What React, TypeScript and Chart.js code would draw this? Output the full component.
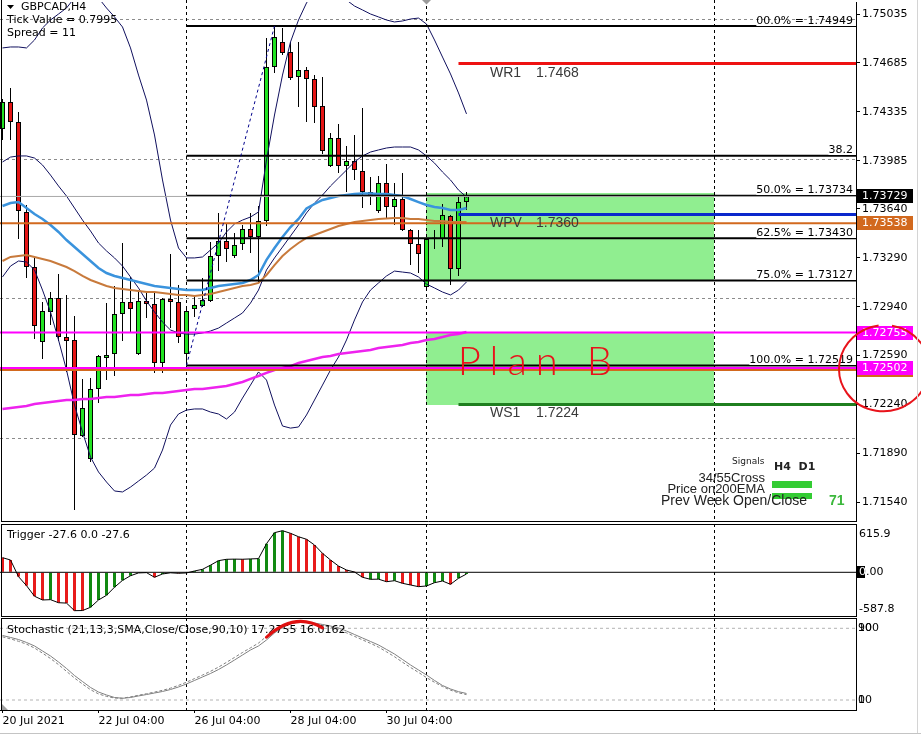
import React, { useEffect, useRef } from 'react';
import { Chart, registerables } from 'chart.js';

Chart.register(...registerables);

// ---------------- price data (H4 bars, index 0 = 20 Jul 04:00) ----------------
const OPEN = [1.74212, 1.74405, 1.74262, 1.73618, 1.73224, 1.72687, 1.72902, 1.73002, 1.72723, 1.72702,
  1.72014, 1.71850, 1.72351, 1.72573, 1.72601, 1.72888, 1.72974, 1.72601, 1.72981, 1.72959,
  1.72537, 1.72995, 1.72974, 1.72601, 1.72923, 1.72945, 1.72981, 1.73303, 1.73410, 1.73303,
  1.73389, 1.73496, 1.73439, 1.73553, 1.74656, 1.74835, 1.74763, 1.74584, 1.74634, 1.74570,
  1.74377, 1.73947, 1.74147, 1.73947, 1.73983, 1.73911, 1.73761, 1.73625, 1.73825, 1.73654,
  1.73711, 1.73489, 1.73389, 1.73081, 1.73428, 1.73424, 1.73589, 1.73210, 1.73689];
const HIGH = [1.74427, 1.74505, 1.74334, 1.73668, 1.73303, 1.72974, 1.73045, 1.73174, 1.73024, 1.72873,
  1.72422, 1.72430, 1.72594, 1.72966, 1.73088, 1.73396, 1.73152, 1.73059, 1.73045, 1.73052,
  1.73002, 1.73317, 1.73095, 1.72930, 1.73024, 1.73145, 1.73403, 1.73611, 1.73532, 1.73467,
  1.73525, 1.73611, 1.73661, 1.74863, 1.74949, 1.74935, 1.74835, 1.74835, 1.74656, 1.74598,
  1.74584, 1.74183, 1.74248, 1.74090, 1.74169, 1.74362, 1.73868, 1.73875, 1.73961, 1.73825,
  1.73897, 1.73496, 1.73489, 1.73430, 1.73489, 1.73675, 1.73596, 1.73725, 1.73761];
const LOW = [1.74133, 1.74133, 1.73424, 1.73145, 1.72709, 1.72566, 1.72809, 1.72694, 1.72472, 1.71485,
  1.72007, 1.71828, 1.72251, 1.72415, 1.72444, 1.72694, 1.72752, 1.72594, 1.72859, 1.72465,
  1.72465, 1.72787, 1.72680, 1.72519, 1.72866, 1.72938, 1.72974, 1.73195, 1.73260, 1.73288,
  1.73346, 1.73324, 1.73117, 1.73518, 1.74613, 1.74742, 1.74563, 1.74369, 1.74262, 1.74255,
  1.74033, 1.73940, 1.73897, 1.73761, 1.73847, 1.73646, 1.73668, 1.73611, 1.73575, 1.73525,
  1.73482, 1.73238, 1.73181, 1.73074, 1.73353, 1.73367, 1.73095, 1.73160, 1.73632];
const CLOSE = [1.74405, 1.74262, 1.73625, 1.73224, 1.72802, 1.72909, 1.73002, 1.72723, 1.72694, 1.72022,
  1.72215, 1.72351, 1.72587, 1.72594, 1.72888, 1.72974, 1.72923, 1.72981, 1.72959, 1.72537,
  1.72995, 1.72974, 1.72723, 1.72909, 1.72952, 1.72988, 1.73303, 1.73410, 1.73353, 1.73382,
  1.73496, 1.73439, 1.73553, 1.74656, 1.74870, 1.74756, 1.74577, 1.74634, 1.74570, 1.74369,
  1.74054, 1.74147, 1.73947, 1.73983, 1.73918, 1.73761, 1.73725, 1.73825, 1.73654, 1.73711,
  1.73489, 1.73389, 1.73317, 1.73424, 1.73435, 1.73596, 1.73210, 1.73689, 1.73729];

// ---------------- indicators ----------------
const BB_UPPER = [1.74792, 1.74799, 1.74799, 1.74792, 1.74849, 1.74935, 1.74992, 1.75035, 1.75078, 1.75150,
  1.75193, 1.75193, 1.75150, 1.75078, 1.75014, 1.74942, 1.74792, 1.74598, 1.74419, 1.74169,
  1.73847, 1.73560, 1.73360, 1.73289, 1.73289, 1.73296, 1.73346, 1.73396, 1.73475, 1.73532,
  1.73560, 1.73582, 1.73618, 1.73990, 1.74312, 1.74598, 1.74835, 1.74992, 1.75114, 1.75193,
  1.75221, 1.75207, 1.75171, 1.75135, 1.75092, 1.75064, 1.75035, 1.75014, 1.74992, 1.74978,
  1.74985, 1.74999, 1.75006, 1.74963, 1.74849, 1.74727, 1.74606, 1.74470, 1.74320];
const BB_MIDDLE = [1.73976, 1.74011, 1.74019, 1.74019, 1.74004, 1.73954, 1.73882, 1.73804, 1.73732, 1.73646,
  1.73560, 1.73482, 1.73396, 1.73339, 1.73289, 1.73231, 1.73153, 1.73074, 1.72981, 1.72902,
  1.72830, 1.72773, 1.72752, 1.72744, 1.72744, 1.72752, 1.72766, 1.72787, 1.72823, 1.72859,
  1.72895, 1.72966, 1.73059, 1.73203, 1.73289, 1.73367, 1.73446, 1.73525, 1.73611, 1.73682,
  1.73739, 1.73804, 1.73861, 1.73918, 1.73976, 1.74019, 1.74047, 1.74062, 1.74076, 1.74083,
  1.74083, 1.74083, 1.74062, 1.74019, 1.73968, 1.73904, 1.73847, 1.73775, 1.73725];
const BB_LOWER = [1.73153, 1.73231, 1.73267, 1.73260, 1.73203, 1.73059, 1.72902, 1.72702, 1.72487, 1.72236,
  1.72043, 1.71864, 1.71757, 1.71685, 1.71621, 1.71614, 1.71649, 1.71692, 1.71735, 1.71785,
  1.71914, 1.72093, 1.72172, 1.72200, 1.72208, 1.72208, 1.72186, 1.72172, 1.72136, 1.72186,
  1.72286, 1.72379, 1.72473, 1.72415, 1.72236, 1.72086, 1.72071, 1.72079, 1.72165, 1.72272,
  1.72379, 1.72487, 1.72580, 1.72702, 1.72845, 1.72974, 1.73059, 1.73110, 1.73160, 1.73195,
  1.73188, 1.73181, 1.73153, 1.73102, 1.73074, 1.73045, 1.73024, 1.73059, 1.73117];
const EMA_FAST = [1.73661, 1.73682, 1.73689, 1.73646, 1.73603, 1.73568, 1.73525, 1.73475, 1.73417, 1.73367,
  1.73317, 1.73267, 1.73217, 1.73181, 1.73160, 1.73145, 1.73131, 1.73117, 1.73102, 1.73088,
  1.73081, 1.73074, 1.73067, 1.73059, 1.73059, 1.73059, 1.73074, 1.73088, 1.73095, 1.73102,
  1.73110, 1.73131, 1.73167, 1.73275, 1.73360, 1.73439, 1.73510, 1.73568, 1.73643, 1.73675,
  1.73704, 1.73718, 1.73732, 1.73739, 1.73747, 1.73750, 1.73750, 1.73747, 1.73747, 1.73739,
  1.73732, 1.73711, 1.73689, 1.73668, 1.73654, 1.73646, 1.73632, 1.73632, 1.73646];
const EMA_SLOW = [1.73267, 1.73296, 1.73303, 1.73310, 1.73296, 1.73281, 1.73267, 1.73246, 1.73224, 1.73195,
  1.73160, 1.73131, 1.73110, 1.73088, 1.73074, 1.73067, 1.73059, 1.73052, 1.73045, 1.73045,
  1.73038, 1.73031, 1.73024, 1.73024, 1.73017, 1.73024, 1.73031, 1.73045, 1.73059, 1.73074,
  1.73088, 1.73095, 1.73110, 1.73167, 1.73238, 1.73303, 1.73353, 1.73396, 1.73432, 1.73453,
  1.73475, 1.73496, 1.73518, 1.73532, 1.73546, 1.73553, 1.73560, 1.73568, 1.73571, 1.73575,
  1.73575, 1.73568, 1.73568, 1.73560, 1.73553, 1.73553, 1.73546, 1.73546, 1.73546];
const EMA_200 = [1.72208, 1.72215, 1.72222, 1.72229, 1.72244, 1.72251, 1.72258, 1.72265, 1.72272, 1.72272,
  1.72279, 1.72279, 1.72286, 1.72294, 1.72294, 1.72301, 1.72308, 1.72308, 1.72315, 1.72322,
  1.72322, 1.72329, 1.72337, 1.72344, 1.72351, 1.72351, 1.72358, 1.72365, 1.72372, 1.72387,
  1.72401, 1.72423, 1.72444, 1.72466, 1.72487, 1.72501, 1.72515, 1.72537, 1.72551, 1.72566,
  1.72580, 1.72587, 1.72601, 1.72608, 1.72616, 1.72623, 1.72630, 1.72644, 1.72651, 1.72658,
  1.72666, 1.72680, 1.72687, 1.72702, 1.72709, 1.72723, 1.72737, 1.72744, 1.72759];

const TRIGGER = [235, 198, -70, -215, -385, -445, -440, -489, -495, -617,
  -615, -563, -445, -370, -240, -130, -55, -10, -5, -80,
  -27, -8, -16, -10, 21, 48, 115, 187, 209, 212,
  210, 215, 220, 460, 637, 669, 627, 572, 531, 439,
  305, 198, 101, 37, 5, -80, -113, -110, -151, -135,
  -177, -204, -231, -220, -167, -140, -193, -96, -27.6];
const TRIGGER_RISING = [0, 0, 0, 0, 0, 0, 1, 0, 0, 0,
  0, 1, 1, 1, 1, 1, 1, 1, 1, 0,
  1, 1, 0, 1, 1, 1, 1, 1, 1, 1,
  0, 1, 1, 1, 1, 1, 0, 0, 0, 0,
  0, 0, 0, 0, 0, 0, 1, 1, 0, 1,
  0, 0, 0, 1, 1, 1, 0, 1, 1];

const STOCH_MAIN = [82.0, 79.8, 77.5, 74.2, 70.3, 64.7, 59.1, 52.4, 45.2, 37.3,
  30.6, 24.0, 18.9, 15.6, 12.8, 11.9, 12.8, 14.5, 16.1, 17.8,
  19.5, 21.7, 24.5, 27.9, 31.8, 35.7, 39.6, 44.0, 49.1, 54.6,
  60.2, 65.8, 70.3, 77.0, 84.8, 91.0, 94.8, 97.1, 97.1, 95.9,
  94.3, 92.6, 90.4, 87.0, 83.1, 79.2, 75.3, 71.4, 66.4, 61.3,
  55.2, 49.1, 43.5, 37.9, 31.8, 26.2, 22.3, 19.3, 17.2755];
const STOCH_SIGNAL = [80.5, 78.2, 75.5, 72.3, 68.0, 62.3, 56.3, 49.5, 42.0, 34.5,
  27.8, 21.5, 16.8, 14.0, 12.2, 12.0, 13.5, 15.3, 17.0, 18.8,
  20.8, 23.2, 26.3, 29.9, 33.9, 37.8, 42.0, 46.7, 52.0, 57.5,
  63.0, 68.2, 73.5, 81.0, 88.0, 93.2, 96.3, 97.8, 96.8, 95.2,
  93.5, 91.5, 88.8, 85.0, 81.0, 77.1, 73.2, 69.0, 63.8, 58.3,
  52.2, 46.3, 40.8, 35.0, 29.8, 25.0, 21.0, 18.0, 16.0162];

// ---------------- axes / levels ----------------
const PRICE_TICKS = [1.75035, 1.74685, 1.74335, 1.73985, 1.73640, 1.73290, 1.72940, 1.72590, 1.72240, 1.71890, 1.71540];
const GRID_PRICES = [1.75, 1.74, 1.73, 1.72];
const X_TICK_BARS = [0, 12, 24, 36, 48];
const X_TICK_LABELS = ['20 Jul 2021', '22 Jul 04:00', '26 Jul 04:00', '28 Jul 04:00', '30 Jul 04:00'];
const SEPARATOR_BARS = [23, 53, 89];
const SHIFT_BAR = 53;

const FIB_START_BAR = 23;
const FIB_LEVELS = [1.74949, 1.74021, 1.73734, 1.73430, 1.73127, 1.72519];
const FIB_LABELS = ['00.0% = 1.74949', '38.2', '50.0% = 1.73734', '62.5% = 1.73430', '75.0% = 1.73127', '100.0% = 1.72519'];
const FIB_TREND_BARS = [23, 34];
const FIB_TREND_PRICES = [1.72519, 1.74949];

const PIVOT_NAMES = ['WR1', 'WPV', 'WS1'];
const PIVOT_VALUES = [1.7468, 1.7360, 1.7224];
const PIVOT_COLORS = ['#ee1111', '#0a28cc', '#1f7f1f'];
const PIVOT_START_BAR = 57;

const HLINE_PRICES = [1.73538, 1.72487, 1.72755, 1.72502];
const HLINE_COLORS = ['#d2691e', '#d2691e', '#ff00ff', '#ff00ff'];
const BID_PRICE = 1.73729;

const ZONE_FROM_BAR = 53;
const ZONE_TO_BAR = 89;
const ZONE_TOPS = [1.73752, 1.72750];
const ZONE_BOTTOMS = [1.73127, 1.72233];

const TRIGGER_TICKS = [615.9, 0, -587.8];
const STOCH_LEVELS = [90, 10];

const PLAN_B = { text: 'Plan B', bar: 56.9, price: 1.72451 };
const ARC_BARS = [33, 36.5, 40];
const ARC_VALUES = [80, 109, 90.5];

// ranges
const X_MIN = -0.3125;
const X_MAX = 106.6875;
const PRICE_MIN = 1.714061;
const PRICE_MAX = 1.751209;
const TRIG_MIN = -718.8;
const TRIG_MAX = 776.7;
const STOCH_MIN = -1.16;
const STOCH_MAX = 101.5;

const AXIS_W = 65;
const FONT_UI = '"DejaVu Sans", Verdana, sans-serif';
const FONT_SANS = '"Liberation Sans", Arial, sans-serif';

// ---------------- helpers ----------------
const series = (arr: number[]) => arr.map((v, i) => ({ x: i, y: v }));
const hline = (from: number, to: number, v: number) => [{ x: from, y: v }, { x: to, y: v }];
const lineDs = (data: any[], color: string, width: number, order: number, extra: any = {}) => ({
  type: 'line', data, borderColor: color, borderWidth: width, pointRadius: 0, pointHoverRadius: 0,
  fill: false, tension: 0, order, clip: 0, ...extra,
});

const xHidden = () => ({ type: 'linear', min: X_MIN, max: X_MAX, display: false, offset: false });

const rightAxis = (min: number, max: number, ticks: number[], fmt: (v: number) => string, tickLen: number, padding: number) => ({
  type: 'linear', position: 'right', min, max,
  afterBuildTicks: (s: any) => { s.ticks = ticks.map((v) => ({ value: v })); },
  afterFit: (s: any) => { s.width = AXIS_W; s.paddingTop = 0; s.paddingBottom = 0; },
  grid: { drawOnChartArea: false, drawTicks: tickLen > 0, tickLength: tickLen, color: '#000', lineWidth: 1 },
  border: { display: true, color: '#000', width: 1 },
  ticks: { autoSkip: false, padding, color: '#000', font: { family: FONT_UI, size: 11 }, callback: (v: number) => fmt(v) },
});

function drawSeparators(ctx: any, xs: any, y0: number, y1: number) {
  ctx.save();
  ctx.strokeStyle = '#000';
  ctx.lineWidth = 1;
  ctx.setLineDash([3, 3]);
  for (const b of SEPARATOR_BARS) {
    const xx = Math.floor(xs.getPixelForValue(b)) + 0.5;
    ctx.beginPath(); ctx.moveTo(xx, y0); ctx.lineTo(xx, y1); ctx.stroke();
  }
  ctx.restore();
}

// ---------------- plugins ----------------
const mainPlugin = {
  id: 'mainDecor',
  beforeDatasetsDraw(chart: any) {
    const { ctx, chartArea: ca } = chart;
    const xs = chart.scales.x, ys = chart.scales.y;
    ctx.save();
    ctx.beginPath(); ctx.rect(0, 0, ca.right, ca.bottom); ctx.clip();
    ctx.lineWidth = 1;
    ctx.strokeStyle = '#8c8c8c';
    ctx.setLineDash([3, 3]);
    for (const p of GRID_PRICES) {
      const yy = Math.round(ys.getPixelForValue(p)) + 0.5;
      ctx.beginPath(); ctx.moveTo(ca.left, yy); ctx.lineTo(ca.right, yy); ctx.stroke();
    }
    ctx.setLineDash([]);
    ctx.fillStyle = '#90ee90';
    const zx0 = Math.floor(xs.getPixelForValue(ZONE_FROM_BAR));
    const zx1 = Math.floor(xs.getPixelForValue(ZONE_TO_BAR));
    ZONE_TOPS.forEach((top, k) => {
      const y0 = Math.round(ys.getPixelForValue(top));
      const y1 = Math.round(ys.getPixelForValue(ZONE_BOTTOMS[k]));
      ctx.fillRect(zx0, y0, zx1 - zx0, y1 - y0);
    });
    drawSeparators(ctx, xs, 0, ca.bottom);
    ctx.restore();
  },
  afterDatasetsDraw(chart: any) {
    const { ctx, chartArea: ca } = chart;
    const xs = chart.scales.x, ys = chart.scales.y;
    ctx.save();
    // panel border
    ctx.strokeStyle = '#000'; ctx.lineWidth = 1; ctx.setLineDash([]);
    ctx.beginPath();
    ctx.moveTo(1.5, 0); ctx.lineTo(1.5, ca.bottom + 1);
    ctx.moveTo(1, ca.bottom + 0.5); ctx.lineTo(ca.right, ca.bottom + 0.5);
    ctx.stroke();

    // chart shift marker
    const sx = xs.getPixelForValue(SHIFT_BAR);
    ctx.fillStyle = '#9a9a9a';
    ctx.beginPath(); ctx.moveTo(sx - 4.5, 0); ctx.lineTo(sx + 4.5, 0); ctx.lineTo(sx, 4.5); ctx.closePath(); ctx.fill();

    // fib labels
    ctx.font = `11px ${FONT_UI}`;
    ctx.textAlign = 'right';
    ctx.textBaseline = 'alphabetic';
    FIB_LEVELS.forEach((lv, k) => {
      const yy = ys.getPixelForValue(lv);
      const w = ctx.measureText(FIB_LABELS[k]).width;
      ctx.fillStyle = '#fff';
      ctx.fillRect(ca.right - 3 - w, Math.floor(yy) - 1, w + 3, 1);
      ctx.fillStyle = '#000';
      ctx.fillText(FIB_LABELS[k], ca.right - 3, yy - 2.5);
    });

    // pivot labels
    ctx.font = `14px ${FONT_SANS}`;
    ctx.textAlign = 'left';
    ctx.fillStyle = '#3a3a3a';
    const px = xs.getPixelForValue(PIVOT_START_BAR);
    PIVOT_VALUES.forEach((v, k) => {
      const yy = ys.getPixelForValue(v) + 13;
      ctx.fillText(PIVOT_NAMES[k], px + 31.5, yy);
      ctx.fillText(v.toFixed(4), px + 77.5, yy);
    });

    // header
    ctx.fillStyle = '#000';
    ctx.beginPath(); ctx.moveTo(7, 5); ctx.lineTo(14, 5); ctx.lineTo(10.5, 9); ctx.closePath(); ctx.fill();
    ctx.font = `11px ${FONT_UI}`;
    ctx.textBaseline = 'middle';
    ctx.fillText('GBPCAD,H4', 21, 7.5);
    ctx.fillText('Tick Value = 0.7995', 7, 20.5);
    ctx.fillText('Spread = 11', 7, 33.5);

    // signals box
    const R = ca.right, B = ca.bottom;
    ctx.fillStyle = '#33cc33';
    ctx.fillRect(R - 84, B - 40, 40, 7);
    ctx.fillRect(R - 84, B - 28, 40, 6);
    ctx.fillStyle = '#222';
    ctx.font = `9px ${FONT_UI}`;
    ctx.fillText('Signals', R - 124, B - 59);
    ctx.font = `bold 11px ${FONT_UI}`;
    ctx.fillText('H4  D1', R - 82, B - 54);
    ctx.font = `13px ${FONT_SANS}`;
    ctx.textAlign = 'right';
    ctx.fillText('34/55Cross', R - 91, B - 42.5);
    ctx.fillText('Price on200EMA', R - 91, B - 32);
    ctx.textAlign = 'left';
    ctx.font = `14px ${FONT_SANS}`;
    ctx.fillText('Prev Week Open/Close', R - 195, B - 19.5);
    ctx.fillStyle = '#3cb83c';
    ctx.font = `bold 14px ${FONT_SANS}`;
    ctx.fillText('71', R - 27, B - 19.5);

    // axis tags
    const tag = (v: number, bg: string) => {
      const yy = Math.round(ys.getPixelForValue(v));
      ctx.fillStyle = bg;
      ctx.fillRect(R + 1, yy - 7, 56, 14);
      ctx.fillStyle = '#fff';
      ctx.font = `11px ${FONT_UI}`;
      ctx.textAlign = 'left';
      ctx.textBaseline = 'middle';
      ctx.fillText(v.toFixed(5), R + 6, yy);
    };
    HLINE_PRICES.forEach((p, k) => { if (HLINE_COLORS[k] === '#d2691e') tag(p, '#d2691e'); });
    HLINE_PRICES.forEach((p, k) => { if (HLINE_COLORS[k] === '#ff00ff') tag(p, '#ff00ff'); });
    tag(BID_PRICE, '#000');

    // hand-drawn annotation
    ctx.fillStyle = '#e8131b';
    ctx.strokeStyle = '#e8131b';
    ctx.font = `300 40px Lato, ${FONT_SANS}`;
    try { (ctx as any).letterSpacing = '9px'; } catch (e) { /* ignore */ }
    ctx.textAlign = 'left';
    ctx.textBaseline = 'alphabetic';
    ctx.fillText(PLAN_B.text, xs.getPixelForValue(PLAN_B.bar), ys.getPixelForValue(PLAN_B.price));
    try { (ctx as any).letterSpacing = '0px'; } catch (e) { /* ignore */ }
    ctx.lineWidth = 2;
    ctx.beginPath();
    ctx.ellipse(R + 28, ys.getPixelForValue(1.72500), 45, 43, -0.2, -1.2, Math.PI * 2 - 1.5);
    ctx.stroke();
    ctx.restore();
  },
};

const trigPlugin = {
  id: 'trigDecor',
  beforeDatasetsDraw(chart: any) {
    const { ctx, chartArea: ca } = chart;
    drawSeparators(ctx, chart.scales.x, ca.top, ca.bottom);
  },
  afterDatasetsDraw(chart: any) {
    const { ctx, chartArea: ca } = chart;
    const ys = chart.scales.y;
    ctx.save();
    ctx.strokeStyle = '#000'; ctx.lineWidth = 1;
    ctx.beginPath();
    ctx.moveTo(1.5, ca.top); ctx.lineTo(1.5, ca.bottom);
    ctx.moveTo(1, ca.top + 0.5); ctx.lineTo(ca.right, ca.top + 0.5);
    ctx.moveTo(1, ca.bottom - 0.5); ctx.lineTo(ca.right, ca.bottom - 0.5);
    ctx.stroke();
    ctx.fillStyle = '#000';
    ctx.font = `11px ${FONT_UI}`;
    ctx.textAlign = 'left';
    ctx.textBaseline = 'middle';
    ctx.fillText('Trigger -27.6 0.0 -27.6', 7, ca.top + 11);
    const yy = Math.round(ys.getPixelForValue(0));
    ctx.fillRect(ca.right + 1, yy - 6, 8, 12);
    ctx.fillStyle = '#fff';
    ctx.fillText('0', ca.right + 3, yy);
    ctx.restore();
  },
};

const stochPlugin = {
  id: 'stochDecor',
  beforeDatasetsDraw(chart: any) {
    const { ctx, chartArea: ca } = chart;
    drawSeparators(ctx, chart.scales.x, ca.top, ca.bottom);
  },
  afterDatasetsDraw(chart: any) {
    const { ctx, chartArea: ca } = chart;
    const xs = chart.scales.x, ys = chart.scales.y;
    ctx.save();
    ctx.strokeStyle = '#000'; ctx.lineWidth = 1;
    ctx.beginPath();
    ctx.moveTo(1.5, ca.top); ctx.lineTo(1.5, ca.bottom);
    ctx.moveTo(1, ca.top + 0.5); ctx.lineTo(ca.right, ca.top + 0.5);
    ctx.stroke();
    ctx.fillStyle = '#000';
    ctx.font = `11px ${FONT_UI}`;
    ctx.textAlign = 'left';
    ctx.textBaseline = 'middle';
    ctx.fillText('Stochastic (21,13,3,SMA,Close/Close,90,10) 17.2755 16.0162', 7, ca.top + 12);
    ctx.fillText('100', ca.right + 2, ys.getPixelForValue(STOCH_LEVELS[0]));
    ctx.fillText('0', ca.right + 2, ys.getPixelForValue(STOCH_LEVELS[1]));
    // small corner marker
    ctx.fillStyle = '#a0a0a0';
    ctx.beginPath(); ctx.moveTo(2, ca.bottom - 6); ctx.lineTo(2, ca.bottom); ctx.lineTo(8, ca.bottom); ctx.closePath(); ctx.fill();
    // red hand-drawn arc
    ctx.strokeStyle = '#e01010'; ctx.lineWidth = 3; ctx.lineCap = 'round';
    ctx.beginPath();
    ctx.moveTo(xs.getPixelForValue(ARC_BARS[0]), ys.getPixelForValue(ARC_VALUES[0]));
    ctx.quadraticCurveTo(xs.getPixelForValue(ARC_BARS[1]), ys.getPixelForValue(ARC_VALUES[1]),
      xs.getPixelForValue(ARC_BARS[2]), ys.getPixelForValue(ARC_VALUES[2]));
    ctx.stroke();
    ctx.restore();
  },
};

// ---------------- configs ----------------
const baseOptions = {
  responsive: false,
  maintainAspectRatio: false,
  animation: false,
  events: [],
  plugins: { legend: { display: false }, tooltip: { enabled: false } },
};

function mainConfig(): any {
  const idx = OPEN.map((_, i) => i);
  const datasets: any[] = [];
  datasets.push({
    type: 'bar', data: idx.map((i) => ({ x: i, y: [LOW[i], HIGH[i]] })),
    backgroundColor: '#000', borderWidth: 0, barThickness: 1, grouped: false, inflateAmount: 0, order: 60,
  });
  datasets.push({
    type: 'bar', data: idx.map((i) => ({ x: i, y: [OPEN[i], CLOSE[i]] })),
    backgroundColor: idx.map((i) => (CLOSE[i] >= OPEN[i] ? '#22e322' : '#e51515')),
    borderColor: '#000', borderWidth: 1, borderSkipped: false, barThickness: 5, grouped: false, inflateAmount: 0, order: 59,
  });
  datasets.push(lineDs(series(BB_UPPER), '#10105e', 1, 50));
  datasets.push(lineDs(series(BB_MIDDLE), '#10105e', 1, 50));
  datasets.push(lineDs(series(BB_LOWER), '#10105e', 1, 50));
  datasets.push(lineDs(series(EMA_200), '#ee22ee', 2.5, 42));
  datasets.push(lineDs(series(EMA_SLOW), '#c87a3c', 2, 41));
  datasets.push(lineDs(series(EMA_FAST), '#3a93dd', 2.5, 40));
  HLINE_PRICES.forEach((p, k) => datasets.push(lineDs(hline(X_MIN, X_MAX, p), HLINE_COLORS[k], 2, 32 - (HLINE_COLORS[k] === '#ff00ff' ? 1 : 0))));
  FIB_LEVELS.forEach((lv) => datasets.push(lineDs(hline(FIB_START_BAR, X_MAX, lv), '#000', 2, 30)));
  datasets.push(lineDs(hline(X_MIN, X_MAX, BID_PRICE), '#a8a8a8', 1, 29));
  PIVOT_VALUES.forEach((v, k) => datasets.push(lineDs(hline(PIVOT_START_BAR, X_MAX, v), PIVOT_COLORS[k], 3, 20)));
  datasets.push(lineDs(FIB_TREND_BARS.map((b, k) => ({ x: b, y: FIB_TREND_PRICES[k] })), '#00008b', 1, 10, { borderDash: [3, 3] }));

  return {
    type: 'line',
    data: { datasets },
    options: {
      ...baseOptions,
      layout: { padding: { left: 0, right: 0, top: 2, bottom: 1 }, autoPadding: false },
      scales: {
        x: xHidden(),
        y: rightAxis(PRICE_MIN, PRICE_MAX, PRICE_TICKS, (v) => v.toFixed(5), 4, 2),
      },
    },
    plugins: [mainPlugin],
  };
}

function trigConfig(): any {
  const datasets: any[] = [
    {
      type: 'bar', data: series(TRIGGER),
      backgroundColor: TRIGGER_RISING.map((r) => (r ? '#118a11' : '#e81b1b')),
      borderWidth: 0, barThickness: 3, grouped: false, inflateAmount: 0, order: 30,
    },
    lineDs(series(TRIGGER), '#000', 1, 20),
    lineDs(hline(X_MIN, X_MAX, 0), '#000', 1, 10),
  ];
  return {
    type: 'line',
    data: { datasets },
    options: {
      ...baseOptions,
      layout: { padding: { left: 0, right: 0, top: 2, bottom: 0 }, autoPadding: false },
      scales: {
        x: xHidden(),
        y: rightAxis(TRIG_MIN, TRIG_MAX, TRIGGER_TICKS, (v) => (v === 0 ? '0.00' : v.toFixed(1)), 0, 3),
      },
    },
    plugins: [trigPlugin],
  };
}

function stochConfig(): any {
  const datasets: any[] = [
    ...STOCH_LEVELS.map((lv) => lineDs(hline(X_MIN, X_MAX, lv), '#b4b4b4', 1, 30, { borderDash: [3, 3] })),
    lineDs(series(STOCH_SIGNAL), '#808080', 1, 20, { borderDash: [3, 2] }),
    lineDs(series(STOCH_MAIN), '#808080', 1, 10),
  ];
  return {
    type: 'line',
    data: { datasets },
    options: {
      ...baseOptions,
      layout: { padding: { left: 0, right: 0, top: 1, bottom: 0 }, autoPadding: false },
      scales: {
        x: {
          type: 'linear', min: X_MIN, max: X_MAX, offset: false, position: 'bottom',
          afterBuildTicks: (s: any) => { s.ticks = X_TICK_BARS.map((v) => ({ value: v })); },
          afterFit: (s: any) => { s.height = 28; s.paddingLeft = 0; s.paddingRight = 0; },
          ticks: {
            autoSkip: false, maxRotation: 0, minRotation: 0, align: 'start', padding: 2, color: '#000',
            font: { family: FONT_UI, size: 11 },
            callback: (v: number) => { const k = X_TICK_BARS.indexOf(v); return k >= 0 ? X_TICK_LABELS[k] : ''; },
          },
          grid: { drawOnChartArea: false, drawTicks: true, tickLength: 3, color: '#000' },
          border: { display: true, color: '#000', width: 1 },
        },
        y: rightAxis(STOCH_MIN, STOCH_MAX, STOCH_LEVELS, (v) => String(v), 0, 2),
      },
    },
    plugins: [stochPlugin],
  };
}

export default function App() {
  const mainRef = useRef<HTMLCanvasElement | null>(null);
  const trigRef = useRef<HTMLCanvasElement | null>(null);
  const stochRef = useRef<HTMLCanvasElement | null>(null);

  useEffect(() => {
    Chart.defaults.font.family = FONT_UI;
    Chart.defaults.font.size = 11;
    Chart.defaults.color = '#000';
    const c1 = new Chart(mainRef.current as HTMLCanvasElement, mainConfig());
    const c2 = new Chart(trigRef.current as HTMLCanvasElement, trigConfig());
    const c3 = new Chart(stochRef.current as HTMLCanvasElement, stochConfig());
    return () => { c1.destroy(); c2.destroy(); c3.destroy(); };
  }, []);

  const abs = (top: number, h: number): any => ({ position: 'absolute', left: 0, top, width: 921, height: h, display: 'block' });
  return (
    <div style={{ position: 'absolute', left: 0, top: 0, width: 921, height: 738, background: '#fff', overflow: 'hidden' }}>
      <canvas ref={mainRef} width={921} height={522} style={abs(0, 522)} />
      <canvas ref={trigRef} width={921} height={95} style={abs(522, 95)} />
      <canvas ref={stochRef} width={921} height={121} style={abs(617, 121)} />
      <div style={{ position: 'absolute', left: 917, top: 0, width: 1, height: 733, background: '#d4d4d4' }} />
      <div style={{ position: 'absolute', left: 0, top: 733, width: 921, height: 1, background: '#c4c4c4' }} />
    </div>
  );
}
